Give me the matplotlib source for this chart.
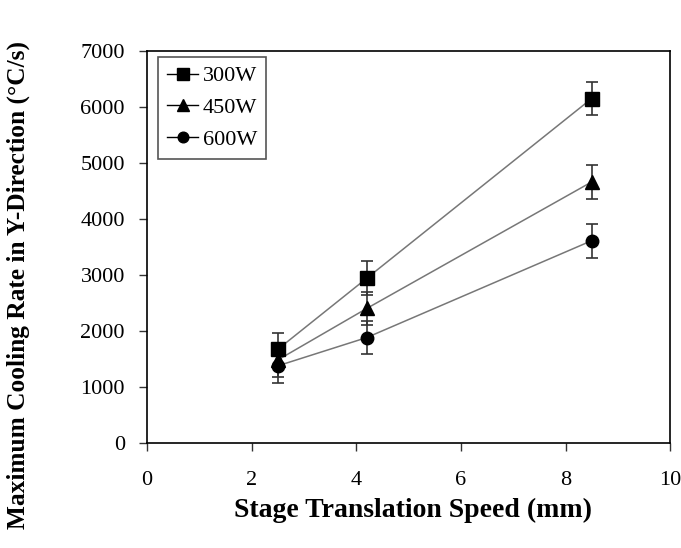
import matplotlib
matplotlib.use('Agg')
from matplotlib import pyplot as plt
from matplotlib.lines import Line2D

# Data.
speed = [2.5, 4.2, 8.5]
rate_300 = [1670, 2940, 6150]
rate_450 = [1480, 2400, 4660]
rate_600 = [1375, 1880, 3610]
err_300 = [300, 300, 300]
err_450 = [300, 300, 300]
err_600 = [300, 300, 300]

labels = ['300W', '450W', '600W']
markers = ['s', '^', 'o']
sizes = [10, 10, 9]

plt.rcParams['font.family'] = ['Liberation Serif', 'DejaVu Serif']

fig = plt.figure(figsize=(6.81, 5.48), dpi=100)
ax = fig.add_axes([0.216, 0.192, 0.768, 0.715])

series = [rate_300, rate_450, rate_600]
errors = [err_300, err_450, err_600]
for y, e, m, s in zip(series, errors, markers, sizes):
    ax.errorbar(speed, y, yerr=e, fmt='none', ecolor='#333333',
                elinewidth=1.2, capsize=4, capthick=1.2, zorder=2)
    ax.plot(speed, y, color='#777777', lw=1.1, zorder=3)
    ax.plot(speed, y, ls='none', marker=m, ms=s, color='black', zorder=4)

handles = [Line2D([], [], color='black', lw=1, marker=m, ms=s * 0.85)
           for m, s in zip(markers, sizes)]
leg = ax.legend(handles, labels, loc='upper left', fontsize=16,
                handlelength=1.4, handletextpad=0.2, labelspacing=0.5,
                borderpad=0.4, borderaxespad=0, fancybox=False,
                edgecolor='#555555', framealpha=1,
                bbox_to_anchor=(0.021, 0.985))
leg.get_frame().set_linewidth(1.2)

ax.set_xlim(0, 10)
ax.set_ylim(0, 7000)
ax.set_xticks([0, 2, 4, 6, 8, 10])
ax.set_yticks(range(0, 7001, 1000))
ax.tick_params(axis='both', direction='out', length=6, width=1,
               labelsize=16, color='#333333')
ax.tick_params(axis='x', pad=14)
ax.tick_params(axis='y', pad=10)
for sp in ax.spines.values():
    sp.set_linewidth(1.2)

ax.set_xlabel('Stage Translation Speed (mm)', fontsize=20, fontweight='bold')
ax.set_ylabel('Maximum Cooling Rate in Y-Direction (°C/s)', fontsize=18.3,
              fontweight='bold')
ax.xaxis.set_label_coords(0.509, -0.14)
ax.yaxis.set_label_coords(-0.224, 0.403)

fig.savefig('out.png', dpi=100)
